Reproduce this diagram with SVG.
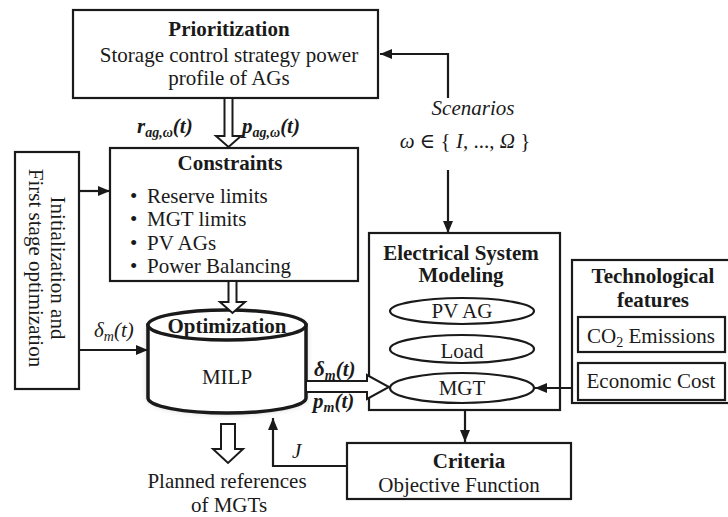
<svg xmlns="http://www.w3.org/2000/svg" width="728" height="517" viewBox="0 0 728 517">
<defs>
<style>
.t{font-family:"Liberation Serif","DejaVu Serif",serif;font-size:21px;fill:#1a1a1a}
.b{font-weight:bold}
.i{font-style:italic}
.m{text-anchor:middle}
.box{fill:#fff;stroke:#1a1a1a;stroke-width:2.2}
.ln{fill:none;stroke:#1a1a1a;stroke-width:2.2}
.blk{fill:#fff;stroke:#1a1a1a;stroke-width:2}
.sub{font-size:14px}
</style>
<marker id="ah" viewBox="0 0 12 10" refX="12" refY="5" markerWidth="12" markerHeight="10" markerUnits="userSpaceOnUse" orient="auto">
<path d="M0,0 L12,5 L0,10 Z" fill="#1a1a1a"/>
</marker>
<filter id="sh" x="-20%" y="-30%" width="140%" height="160%">
<feGaussianBlur stdDeviation="3"/>
</filter>
</defs>
<rect width="728" height="517" fill="#fff"/>

<g id="prioritization">
<rect class="box" x="73" y="10" width="305" height="88"/>
<text class="t b m" x="229" y="36">Prioritization</text>
<text class="t m" x="229" y="62">Storage control strategy power</text>
<text class="t m" x="229" y="85">profile of AGs</text>
</g>

<g id="init">
<rect class="box" x="15" y="152" width="64" height="237"/>
<text class="t m" transform="translate(51,268) rotate(90)">Initialization and</text>
<text class="t m" transform="translate(29,268) rotate(90)">First stage optimization</text>
</g>

<g id="constraints">
<rect class="box" x="110" y="148" width="248" height="133"/>
<text class="t b m" x="230" y="170">Constraints</text>
<text class="t" x="130" y="203">•</text><text class="t" x="147" y="203">Reserve limits</text>
<text class="t" x="130" y="226">•</text><text class="t" x="147" y="226">MGT limits</text>
<text class="t" x="130" y="250">•</text><text class="t" x="147" y="250">PV AGs</text>
<text class="t" x="130" y="273">•</text><text class="t" x="147" y="273">Power Balancing</text>
</g>

<g id="optimization">
<path d="M148,325 L148,398 A79,15 0 0 0 306,398 L306,325 Z" fill="#bbb" filter="url(#sh)"/>
<path d="M148,325 L148,398 A79,15 0 0 0 306,398 L306,325 Z" fill="#fff" stroke="#1a1a1a" stroke-width="3.5"/>
<ellipse cx="227" cy="325" rx="79" ry="15" fill="#fff" stroke="#1a1a1a" stroke-width="3.5"/>
<text class="t b m" x="227" y="333">Optimization</text>
<text class="t m" x="227" y="384">MILP</text>
</g>

<g id="scenarios">
<text class="t i m" x="473" y="115">Scenarios</text>
<text class="t m" x="465" y="148"><tspan class="i">ω</tspan> ∈ { <tspan class="i">I</tspan>, ..., <tspan class="i">Ω</tspan> }</text>
</g>

<g id="esm">
<rect class="box" x="369" y="233" width="191" height="177"/>
<text class="t b m" x="461" y="260">Electrical System</text>
<text class="t b m" x="461" y="282">Modeling</text>
<ellipse class="box" cx="462" cy="311" rx="72" ry="13"/>
<text class="t m" x="462" y="318">PV AG</text>
<ellipse class="box" cx="462" cy="349" rx="72" ry="14"/>
<text class="t m" x="462" y="358">Load</text>
<ellipse class="box" cx="462" cy="388" rx="72" ry="15"/>
<text class="t m" x="462" y="395">MGT</text>
</g>

<g id="tech">
<rect class="box" x="572" y="260" width="160" height="143" stroke-width="2.6"/>
<text class="t b m" x="653" y="283">Technological</text>
<text class="t b m" x="653" y="307">features</text>
<rect class="box" x="578" y="317" width="147" height="35" stroke-width="2.6"/>
<text class="t m" x="651" y="343">CO<tspan class="sub" dy="4">2</tspan><tspan dy="-4"> Emissions</tspan></text>
<rect class="box" x="578" y="363" width="147" height="37" stroke-width="2.6"/>
<text class="t m" x="651" y="388">Economic Cost</text>
</g>

<g id="criteria">
<rect class="box" x="347" y="443" width="224" height="56"/>
<text class="t b m" x="469" y="468">Criteria</text>
<text class="t m" x="459" y="492">Objective Function</text>
</g>

<g id="planned">
<text class="t m" x="227" y="488">Planned references</text>
<text class="t m" x="229" y="512">of MGTs</text>
</g>

<g id="connectors">
<polygon class="blk" points="224.5,98 232.5,98 232.5,136 241,136 228.5,147 216,136 224.5,136"/>
<polygon class="blk" points="228.5,281 236.5,281 236.5,302 245,302 232.5,313 220,302 228.5,302"/>
<polygon class="blk" points="221,424 235,424 235,449 243,449 228,463 213,449 221,449"/>
<polygon class="blk" points="306,381 367,381 367,375 389,387 367,399 367,392 306,392"/>
<polyline class="ln" points="448,98 448,54 380,54" marker-end="url(#ah)"/>
<line class="ln" x1="448" y1="170" x2="448" y2="233" marker-end="url(#ah)"/>
<line class="ln" x1="79" y1="191" x2="110" y2="191" marker-end="url(#ah)"/>
<line class="ln" x1="79" y1="350" x2="148" y2="350" marker-end="url(#ah)"/>
<line class="ln" x1="465" y1="410" x2="465" y2="442" marker-end="url(#ah)"/>
<line class="ln" x1="572" y1="388" x2="535" y2="388" marker-end="url(#ah)"/>
<polyline class="ln" points="347,466 273,466 273,418" marker-end="url(#ah)"/>
<text class="t b i" x="137" y="133">r<tspan class="sub" dy="4">ag,ω</tspan><tspan dy="-4">(t)</tspan></text>
<text class="t b i" x="242" y="133">p<tspan class="sub" dy="4">ag,ω</tspan><tspan dy="-4">(t)</tspan></text>
<text class="t i" x="94" y="337">δ<tspan class="sub" dy="4">m</tspan><tspan dy="-4">(t)</tspan></text>
<text class="t b i" x="314" y="376">δ<tspan class="sub" dy="4">m</tspan><tspan dy="-4">(t)</tspan></text>
<text class="t b i" x="313" y="408">p<tspan class="sub" dy="4">m</tspan><tspan dy="-4">(t)</tspan></text>
<text class="t i" x="292" y="458">J</text>
</g>
</svg>
